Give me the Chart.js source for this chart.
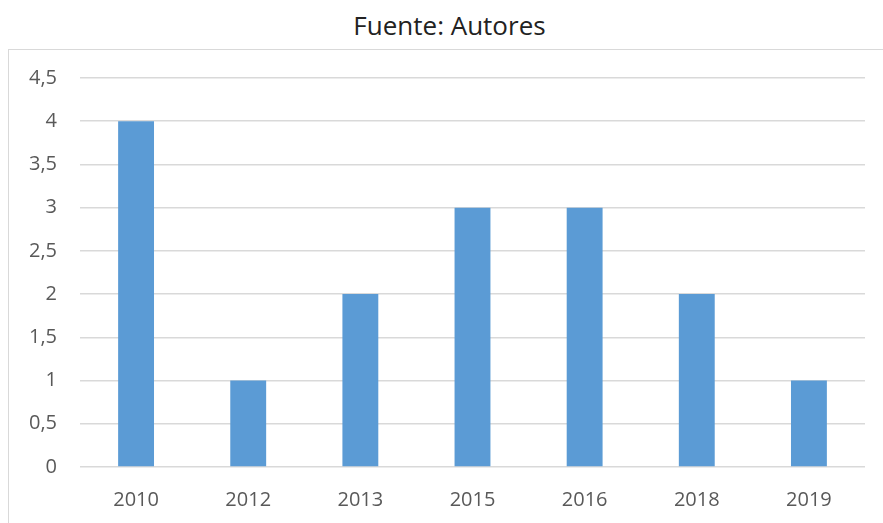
<!DOCTYPE html>
<html lang="es">
<head>
    <meta charset="UTF-8">
    <title>Fuente: Autores</title>
    <script src="https://cdn.jsdelivr.net/npm/chart.js"></script>
    <style>
        body { margin: 0; background: #fff; width: 883px; height: 523px; overflow: hidden; position: relative; }
        #frame { position: absolute; left: 8px; top: 49px; width: 900px; height: 500px; border: 1.5px solid #d9d9d9; }
        #title { position: absolute; left: 0; top: 10px; width: 899px; text-align: center;
                 font: 26px/30px "Open Sans", "DejaVu Sans", sans-serif; color: #222; }
        #chart { position: absolute; left: 0; top: 0; }
    </style>
</head>
<body>
    <div id="frame"></div>
    <div id="title">Fuente: Autores</div>
    <canvas id="chart" width="883" height="523"></canvas>
    <script>
        const years = ['2010', '2012', '2013', '2015', '2016', '2018', '2019'];
        const counts = [4, 1, 2, 3, 3, 2, 1];
        const yMax = 4.5;
        const yStep = 0.5;

        const fontFamily = '"Open Sans", "DejaVu Sans", sans-serif';

        new Chart(document.getElementById('chart'), {
            type: 'bar',
            data: {
                labels: years,
                datasets: [{
                    data: counts,
                    backgroundColor: '#5b9bd5',
                    barPercentage: 0.32,
                    categoryPercentage: 1
                }]
            },
            options: {
                responsive: false,
                animation: false,
                layout: { padding: { left: 0, right: 18, top: 78, bottom: 0 } },
                plugins: {
                    legend: { display: false },
                    tooltip: { enabled: false }
                },
                scales: {
                    x: {
                        afterFit: axis => { axis.height = 56; },
                        grid: { display: false },
                        border: { display: false },
                        ticks: { color: '#595959', font: { family: fontFamily, size: 20 }, padding: 13 }
                    },
                    y: {
                        min: 0,
                        max: yMax,
                        afterFit: axis => { axis.width = 80; },
                        grid: { color: '#d9d9d9', lineWidth: 1.5, drawTicks: false },
                        border: { display: false },
                        ticks: {
                            stepSize: yStep,
                            color: '#595959',
                            font: { family: fontFamily, size: 20 },
                            padding: 23,
                            callback: v => String(v).replace('.', ',')
                        }
                    }
                }
            }
        });
    </script>
</body>
</html>
